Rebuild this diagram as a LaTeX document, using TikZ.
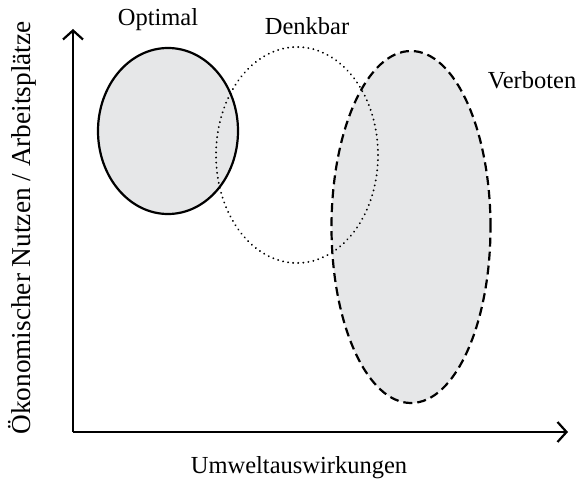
\documentclass[tikz,border=0pt]{standalone}
\usepackage{fontspec}
\setmainfont{Liberation Serif}
\usetikzlibrary{arrows.meta,shapes.geometric}
\definecolor{zonegray}{HTML}{E6E7E8}
\tikzset{
  axis/.style={line width=2.2pt,-{Straight Barb[length=9pt,width=20pt,line width=2.2pt]}},
  zone/.style={ellipse,inner sep=0pt,line width=2.2pt,draw=black},
  lbl/.style={font=\fontsize{24.5}{28}\selectfont,inner sep=0pt},
}
\begin{document}
\begin{tikzpicture}[x=1pt,y=-1pt]
\useasboundingbox (0,0) rectangle (579,487);
% zones
\node[zone,fill=zonegray,dashed,dash pattern=on 9pt off 5pt,minimum width=159pt,minimum height=352pt] (verb) at (411,227) {};
\node[zone,fill=zonegray,minimum width=140pt,minimum height=166pt] (opt) at (168,131) {};
\node[zone,line width=2pt,dash pattern=on 0.1pt off 5pt,line cap=round,minimum width=162pt,minimum height=216pt] (denk) at (297,155) {};
% axes
\coordinate (o) at (73,432);
\coordinate (ytop) at (73,29);
\coordinate (xend) at (568,432);
\draw[axis] (o) -- (ytop);
\draw[axis] (o) -- (xend);
% labels
\node[lbl] (lopt) at (158,20) {Optimal};
\node[lbl] (ldenk) at (307,26) {Denkbar};
\node[lbl] (lverb) at (532,80) {Verboten};
\node[lbl] (lx) at (299,468) {Umweltauswirkungen};
\node[lbl,font=\fontsize{27.3}{31}\selectfont,rotate=90] (ly) at (22,228) {Ökonomischer Nutzen / Arbeitsplätze};
\end{tikzpicture}
\end{document}
